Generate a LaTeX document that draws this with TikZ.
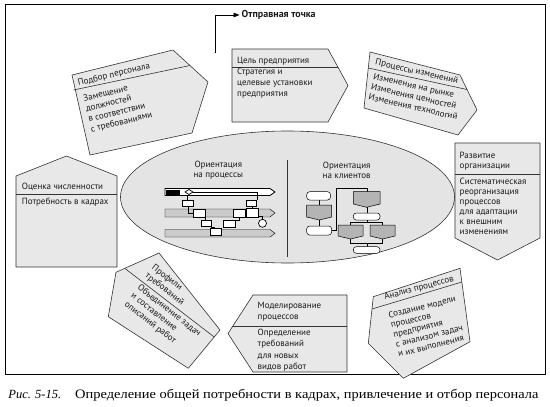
\documentclass[tikz,border=0pt]{standalone}
\usepackage{fontspec}
\setmainfont{PT Sans}
\newfontfamily\lbl{PT Sans}
\newfontfamily\capfont[FakeStretch=1.12]{Liberation Serif}
\newfontfamily\figfont{Liberation Serif}
\usetikzlibrary{arrows.meta,calc}
\definecolor{boxfill}{HTML}{E8E8E8}
\definecolor{ellfill}{HTML}{E4E4E4}
\definecolor{minigray}{HTML}{B4B4B4}
\definecolor{edgec}{HTML}{333333}
\definecolor{txtc}{HTML}{1A1A1A}
\tikzset{
  shp/.style={draw=edgec, fill=boxfill, line width=0.6pt, line join=round},
  divl/.style={draw=edgec, line width=0.6pt},
  txt/.style={font=\lbl\fontsize{9}{10.5}\selectfont, text=txtc, align=left, inner sep=0pt, anchor=north west, execute at begin node=\strut},
  ctr/.style={font=\lbl\fontsize{9}{10}\selectfont, text=txtc, align=center, inner sep=0pt},
  lane/.style={draw=black, fill=minigray!70, line width=0.4pt},
  mbox/.style={draw=black, fill=white, line width=0.7pt},
  mline/.style={draw=black, line width=0.4pt},
  term/.style={draw=black, fill=white, line width=0.5pt, rounded corners=3pt},
  gproc/.style={draw=black, fill=minigray, line width=0.5pt}
}
\begin{document}
\begin{tikzpicture}[x=1pt,y=-1pt]
\useasboundingbox (0,0) rectangle (550,407);
% frame
\draw[line width=0.8pt] (5,4) rectangle (545.5,374);

% central ellipse
\draw[shp, fill=ellfill] (287.5,197) ellipse [x radius=167, y radius=66];
\draw[divl] (287,160) -- (287,257);
\node[ctr] (orP) at (218.3,170) {Ориентация\\на процессы};
\node[ctr] (orK) at (346.7,170) {Ориентация\\на клиентов};

% left mini diagram (lanes)
\draw[lane, fill=white, line width=0.8pt] (165,188.5) -- (270,188.5) -- (275,192) -- (270,195.5) -- (165,195.5) -- cycle;
\draw[lane] (165,209) -- (270,209) -- (275,213) -- (270,217) -- (165,217) -- cycle;
\draw[lane] (165,229.5) -- (270,229.5) -- (275,233.3) -- (270,237) -- (165,237) -- cycle;
\fill[black] (166,189.5) rectangle (180,194.5);
\draw[mline] (193,192) -- (257,192) -- (257,200);
\draw[mline] (187.5,196) -- (187.5,200);
\draw[mline] (188,206) -- (188,213) -- (193,213);
\draw[mline] (205,217) -- (205,220);
\draw[mline] (211,226.7) -- (214,226.7) -- (214,228);
\draw[mline] (252,206) -- (252,208);
\draw[mline] (245,213) -- (246.7,213);
\draw[mline] (239,217) -- (239,220) -- (235,220);
\draw[mline] (258.3,216) -- (262.5,216) -- (262.5,219.3);
\draw[mbox, fill=white] (185,192) -- (189,189.5) -- (193,192) -- (189,194.5) -- cycle;
\draw[mbox] (182,200) rectangle (193.3,206);
\draw[mbox] (246.7,200) rectangle (256.7,206);
\draw[mbox] (193,209.5) rectangle (205,217);
\draw[mbox] (233.3,209.5) rectangle (245,217);
\draw[mbox] (246.7,208) rectangle (258.3,217.3);
\draw[mbox] (201.7,220) rectangle (211.7,226.7);
\draw[mbox] (223.3,220) rectangle (235,227.3);
\draw[mbox] (210,228.5) rectangle (221.7,235);
\draw[mbox] (262.5,223.3) circle [radius=4];

% right mini flowchart
\draw[mline] (319.2,200) -- (319.2,205);
\draw[mline] (319.2,220) -- (319.2,226);
\draw[mline] (331.7,230.5) -- (336,230.5) -- (336,188.3) -- (366.7,188.3) -- (366.7,191.7);
\draw[mline] (366.7,207) -- (366.7,213);
\draw[mline] (366.7,220) -- (366.7,222.5);
\draw[mline] (350.5,225) -- (350.5,222.5) -- (382.5,222.5) -- (382.5,225);
\draw[mline] (350.5,239) -- (350.5,243) -- (382.5,243) -- (382.5,239);
\draw[mline] (366.7,243) -- (366.7,246.7);
\draw[term] (306.7,191.7) rectangle (330.5,200);
\draw[gproc] (306.7,205) -- (331.7,205) -- (331.7,217) -- (319.2,220) -- (306.7,217) -- cycle;
\draw[term] (306.7,226) rectangle (331.7,235);
\draw[gproc] (353.3,191.7) -- (380,191.7) -- (380,204) -- (366.7,207.3) -- (353.3,204) -- cycle;
\draw[term] (353.3,213) rectangle (380,220);
\draw[gproc] (338,225) -- (363,225) -- (363,236) -- (350.5,239) -- (338,236) -- cycle;
\draw[gproc] (370,225) -- (395,225) -- (395,236) -- (382.5,239) -- (370,236) -- cycle;
\draw[term] (353.3,246.7) rectangle (380,253.3);

% start arrow
\coordinate (st) at (215,53);
\node[font=\lbl\bfseries\fontsize{10}{11}\selectfont, text=txtc, anchor=west, inner sep=2pt] (otp) at (239.5,15) {Отправная точка};
\draw[line width=0.7pt, -{Triangle[length=6pt,width=4.5pt]}] (st) |- (otp.west);

% Цель предприятия
\draw[shp] (232,49) -- (328,49) -- (348,85.5) -- (328,122) -- (232,122) -- cycle;
\draw[divl] (232,67) -- (337.9,67);
\node[txt] (celH) at (237,55.5) {Цель предприятия};
\node[txt, font=\lbl\fontsize{9}{10.8}\selectfont] (celB) at (237,68.3) {Стратегия и\\целевые установки\\предприятия};

% Подбор персонала
\draw[shp] (72,75) -- (173,50) -- (208,82) -- (192,133) -- (90,155) -- cycle;
\draw[divl] (73.5,90) -- (190,65.5);
\node[txt, rotate=13.5] (podH) at (76.7,78.4) {Подбор персонала};
\node[txt, rotate=13.5] (podB) at (82.5,95.1) {Замещение\\должностей\\в соответствии\\с требованиями};

% Процессы изменений
\draw[shp] (370,52) -- (460,75) -- (477,110) -- (458,135) -- (364,108) -- cycle;
\draw[divl] (368.3,68) -- (467,89.5);
\node[txt, rotate=-13] (izmH) at (376.5,57.2) {Процессы изменений};
\node[txt, rotate=-13] (izmB) at (374.2,72.8) {Изменения на рынке\\Изменения ценностей\\Изменения технологий};

% Оценка численности
\draw[shp] (16,267) -- (16,176) -- (66.5,156) -- (117,176) -- (117,267) -- cycle;
\draw[divl] (16,194.3) -- (117,194.3);
\node[txt] (ocH) at (21.7,182.3) {Оценка численности};
\node[txt] (ocB) at (21.7,197.3) {Потребность в кадрах};

% Развитие организации
\draw[shp] (455,143) -- (540,143) -- (540,238) -- (497.5,260) -- (455,238) -- cycle;
\draw[divl] (455,174.5) -- (540,174.5);
\node[txt, font=\lbl\fontsize{9}{10}\selectfont] (rzH) at (459.5,151.7) {Развитие\\организации};
\node[txt, font=\lbl\fontsize{9}{10}\selectfont] (rzB) at (459.5,178.3) {Систематическая\\реорганизация\\процессов\\для адаптации\\к внешним\\изменениям};

% Профили требований
\draw[shp] (116,272.3) -- (159,253) -- (220,330) -- (188.3,368.3) -- (108.3,316.7) -- cycle;
\draw[divl] (125,268.5) -- (214.2,337);
\node[txt, rotate=-38] (prH) at (155.2,263.3) {Профили\\требований};
\node[txt, rotate=-38] (prB) at (141,283.3) {Объединение задач\\и составление\\описаний работ};

% Моделирование процессов
\draw[shp] (253,295) -- (347,295) -- (347,372) -- (253,372) -- (228,333.5) -- cycle;
\draw[divl] (232.4,326.7) -- (347,326.7);
\node[txt, font=\lbl\fontsize{9}{11.3}\selectfont] (moH) at (257.5,301.7) {Моделирование\\процессов};
\node[txt, font=\lbl\fontsize{9}{11.3}\selectfont] (moB) at (257.5,329) {Определение\\требований\\для новых\\видов работ};

% Анализ процессов
\draw[shp] (373.3,296.7) -- (460,268.3) -- (470,341.7) -- (403.3,378.3) -- (368.3,343.3) -- cycle;
\draw[divl] (372,309) -- (461.9,282);
\node[txt, rotate=15] (anH) at (383.1,292.5) {Анализ процессов};
\node[txt, rotate=14, font=\lbl\fontsize{9}{10}\selectfont] (anB) at (387.5,311.8) {Создание модели\\процессов\\предприятия\\с анализом задач\\и их выполнения};

% caption
\node[font=\figfont\itshape\fontsize{12.5}{15}\selectfont, anchor=base west, inner sep=0pt] (fig) at (8.3,398) {Рис. 5-15.};
\node[font=\capfont\fontsize{12.9}{15}\selectfont, anchor=base west, inner sep=0pt] (cap) at (75,398) {Определение общей потребности в кадрах, привлечение и отбор персонала};
\end{tikzpicture}
\end{document}
